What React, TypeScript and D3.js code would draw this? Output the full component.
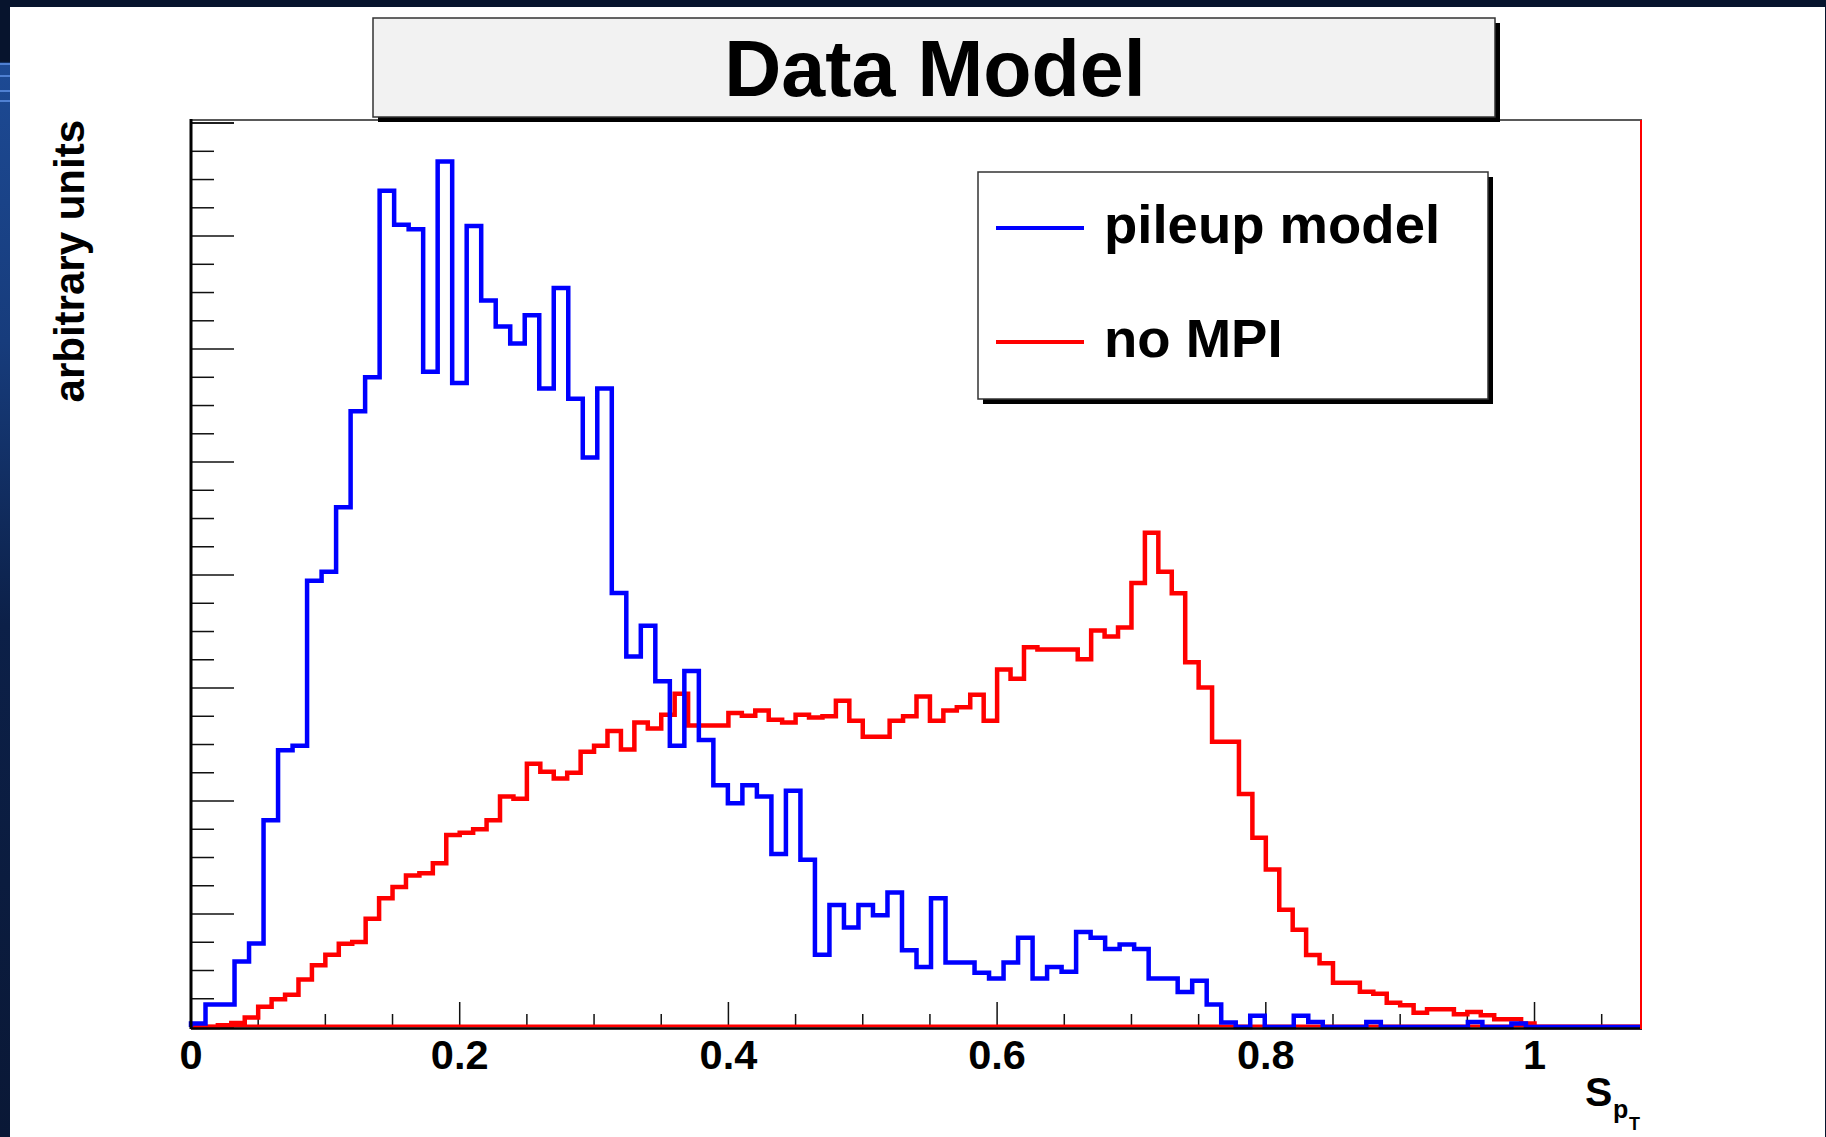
import React from "react";
import * as d3 from "d3";

// ---- data ----
const blueBinWidth = 0.0108; // 100 bins over [0, 1.08]
const redBinWidth = 0.01; // 108 bins over [0, 1.08]

const pileupModel = [
  0.03, 0.2, 0.2, 0.58, 0.74, 1.83, 2.45, 2.49, 3.95, 4.03,
  4.6, 5.45, 5.75, 7.4, 7.1, 7.06, 5.8, 7.66, 5.7, 7.09,
  6.43, 6.2, 6.05, 6.3, 5.65, 6.54, 5.56, 5.04, 5.65, 3.84,
  3.28, 3.55, 3.06, 2.49, 3.15, 2.54, 2.14, 1.98, 2.14, 2.04,
  1.53, 2.09, 1.48, 0.64, 1.08, 0.88, 1.08, 0.99, 1.19, 0.68,
  0.53, 1.14, 0.57, 0.57, 0.48, 0.43, 0.57, 0.79, 0.43, 0.53,
  0.49, 0.84, 0.79, 0.69, 0.73, 0.69, 0.43, 0.43, 0.31, 0.41,
  0.2, 0.04, 0, 0.1, 0, 0, 0.1, 0.044, 0, 0,
  0, 0.044, 0, 0, 0, 0, 0, 0, 0.044, 0,
  0, 0.03, 0, 0, 0, 0, 0, 0, 0, 0,
];

const noMPI = [
  0, 0, 0.015, 0.035, 0.083, 0.18, 0.245, 0.286, 0.42, 0.546,
  0.64, 0.737, 0.752, 0.959, 1.14, 1.24, 1.34, 1.36, 1.45, 1.7,
  1.72, 1.75, 1.83, 2.04, 2.02, 2.33, 2.26, 2.2, 2.25, 2.435,
  2.488, 2.62, 2.456, 2.695, 2.642, 2.764, 2.95, 2.669, 2.669, 2.669,
  2.78, 2.754, 2.8, 2.72, 2.695, 2.764, 2.738, 2.75, 2.887, 2.71,
  2.568, 2.568, 2.71, 2.75, 2.924, 2.71, 2.8, 2.83, 2.94, 2.71,
  3.163, 3.083, 3.36, 3.34, 3.34, 3.34, 3.254, 3.51, 3.455, 3.535,
  3.929, 4.375, 4.03, 3.838, 3.227, 3.004, 2.525, 2.525, 2.063, 1.675,
  1.393, 1.037, 0.861, 0.638, 0.565, 0.392, 0.392, 0.313, 0.295, 0.215,
  0.192, 0.127, 0.156, 0.156, 0.112, 0.133, 0.103, 0.068, 0.068, 0.032,
  0, 0, 0, 0, 0, 0, 0, 0,
];

const xTickLabels = ["0", "0.2", "0.4", "0.6", "0.8", "1"];
const xLabelValues = [0, 0.2, 0.4, 0.6, 0.8, 1.0];
const legendLabels = ["pileup model", "no MPI"];
const seriesColors = ["#0000ff", "#ff0000"];
const titleText = "Data Model";
const yTitle = "arbitrary units";

// ---- layout ----
const W = 1826;
const H = 1137;
const plotL = 191;
const plotR = 1642;
const plotT = 120;
const plotB = 1027;
const xMax = 1.08;
const yMax = 8.027;
const FONT = "'Liberation Sans', Arial, Helvetica, sans-serif";

const x = d3.scaleLinear().domain([0, xMax]).range([plotL, plotR]);
const y = d3.scaleLinear().domain([0, yMax]).range([plotB, plotT]);

function stepPath(values: number[], bw: number): string {
  const pts: [number, number][] = [];
  pts.push([x(0), y(0)]);
  values.forEach((v, i) => {
    pts.push([x(i * bw), y(v)]);
    pts.push([x((i + 1) * bw), y(v)]);
  });
  pts.push([x(values.length * bw), y(0)]);
  return d3.line()(pts) || "";
}

export default function App() {
  const xMinorTicks = d3.range(0, xMax + 1e-9, 0.05);
  const yMinorTicks = d3.range(0, yMax, 0.25);

  return (
    <svg
      width={W}
      height={H}
      style={{ position: "absolute", left: 0, top: 0, background: "#ffffff" }}
      fontFamily={FONT}
    >
      <defs>
        <linearGradient id="leftBand" x1="0" y1="0" x2="0" y2="1">
          <stop offset="0" stopColor="#07142d" />
          <stop offset="0.054" stopColor="#07142d" />
          <stop offset="0.056" stopColor="#1d4a94" />
          <stop offset="0.3" stopColor="#173c7c" />
          <stop offset="0.55" stopColor="#0c2048" />
          <stop offset="1" stopColor="#0a1836" />
        </linearGradient>
      </defs>
      <rect x={0} y={0} width={W} height={H} fill="#ffffff" />
      {/* slide border */}
      <rect x={0} y={0} width={W} height={7} fill="#07142d" />
      <rect x={0} y={0} width={10} height={H} fill="url(#leftBand)" />
      {[63, 75, 90, 100].map((sy) => (
        <rect key={sy} x={0} y={sy} width={10} height={2} fill="#4f80d2" />
      ))}
      <rect x={W - 1} y={0} width={1} height={H} fill="#07142d" />

      {/* frame top */}
      <line x1={plotL} x2={plotR} y1={plotT} y2={plotT} stroke="#222" strokeWidth={1.5} />

      {/* y ticks */}
      {yMinorTicks.map((t, i) => {
        const major = i % 4 === 0;
        return (
          <line
            key={"yt" + i}
            x1={plotL}
            x2={plotL + (major ? 43 : 23)}
            y1={y(t)}
            y2={y(t)}
            stroke="#111"
            strokeWidth={1.5}
          />
        );
      })}
      <line x1={plotL} x2={plotL + 43} y1={y(8)} y2={y(8)} stroke="#111" strokeWidth={1.5} />

      {/* x ticks */}
      {xMinorTicks.map((t, i) => {
        const major = i % 4 === 0;
        return (
          <line
            key={"xt" + i}
            x1={x(t)}
            x2={x(t)}
            y1={plotB}
            y2={plotB - (major ? 25 : 13)}
            stroke="#111"
            strokeWidth={1.5}
          />
        );
      })}

      {/* histograms */}
      <line x1={x(0)} x2={x(xMax)} y1={y(0) - 1} y2={y(0) - 1} stroke={seriesColors[1]} strokeWidth={3} />
      <path d={stepPath(noMPI, redBinWidth)} fill="none" stroke={seriesColors[1]} strokeWidth={4.5} strokeLinejoin="miter" />
      <path d={stepPath(pileupModel, blueBinWidth)} fill="none" stroke={seriesColors[0]} strokeWidth={4.5} strokeLinejoin="miter" />

      {/* axes */}
      <line x1={plotL} x2={plotL} y1={plotT - 1} y2={plotB + 2} stroke="#000" strokeWidth={3} />
      <line x1={plotL} x2={plotR} y1={plotB + 1.5} y2={plotB + 1.5} stroke="#000" strokeWidth={2.5} />
      <line x1={plotR - 1} x2={plotR - 1} y1={plotT} y2={plotB + 2} stroke="#ff0000" strokeWidth={2} />

      {/* x tick labels */}
      {xTickLabels.map((lab, i) => (
        <text
          key={"xl" + i}
          x={x(xLabelValues[i])}
          y={1069}
          textAnchor="middle"
          fontSize={41.5}
          fontWeight="bold"
          fill="#000"
        >
          {lab}
        </text>
      ))}

      {/* x axis title S_{p_T} */}
      <text fontWeight="bold" fill="#000">
        <tspan x={1585} y={1106} fontSize={41}>S</tspan>
        <tspan x={1613} y={1118} fontSize={25}>p</tspan>
        <tspan x={1629} y={1130} fontSize={18}>T</tspan>
      </text>

      {/* y axis title */}
      <text
        transform={`translate(84,120) rotate(-90)`}
        textAnchor="end"
        fontSize={42}
        fontWeight="bold"
        fill="#000"
      >
        {yTitle}
      </text>

      {/* title box */}
      <rect x={378} y={23} width={1122} height={99} fill="#000" />
      <rect x={373} y={18} width={1122} height={99} fill="#f2f2f2" stroke="#333" strokeWidth={1.5} />
      <text x={935} y={96} textAnchor="middle" fontSize={79} fontWeight="bold" fill="#000">
        {titleText}
      </text>

      {/* legend */}
      <rect x={983} y={177} width={510} height={227} fill="#000" />
      <rect x={978} y={172} width={510} height={227} fill="#fff" stroke="#333" strokeWidth={1.5} />
      {legendLabels.map((lab, i) => {
        const ly = i === 0 ? 228 : 342;
        return (
          <g key={"lg" + i}>
            <line x1={996} x2={1084} y1={ly} y2={ly} stroke={seriesColors[i]} strokeWidth={4} />
            <text x={1104} y={ly + 15} fontSize={54.5} fontWeight="bold" fill="#000">
              {lab}
            </text>
          </g>
        );
      })}
    </svg>
  );
}
